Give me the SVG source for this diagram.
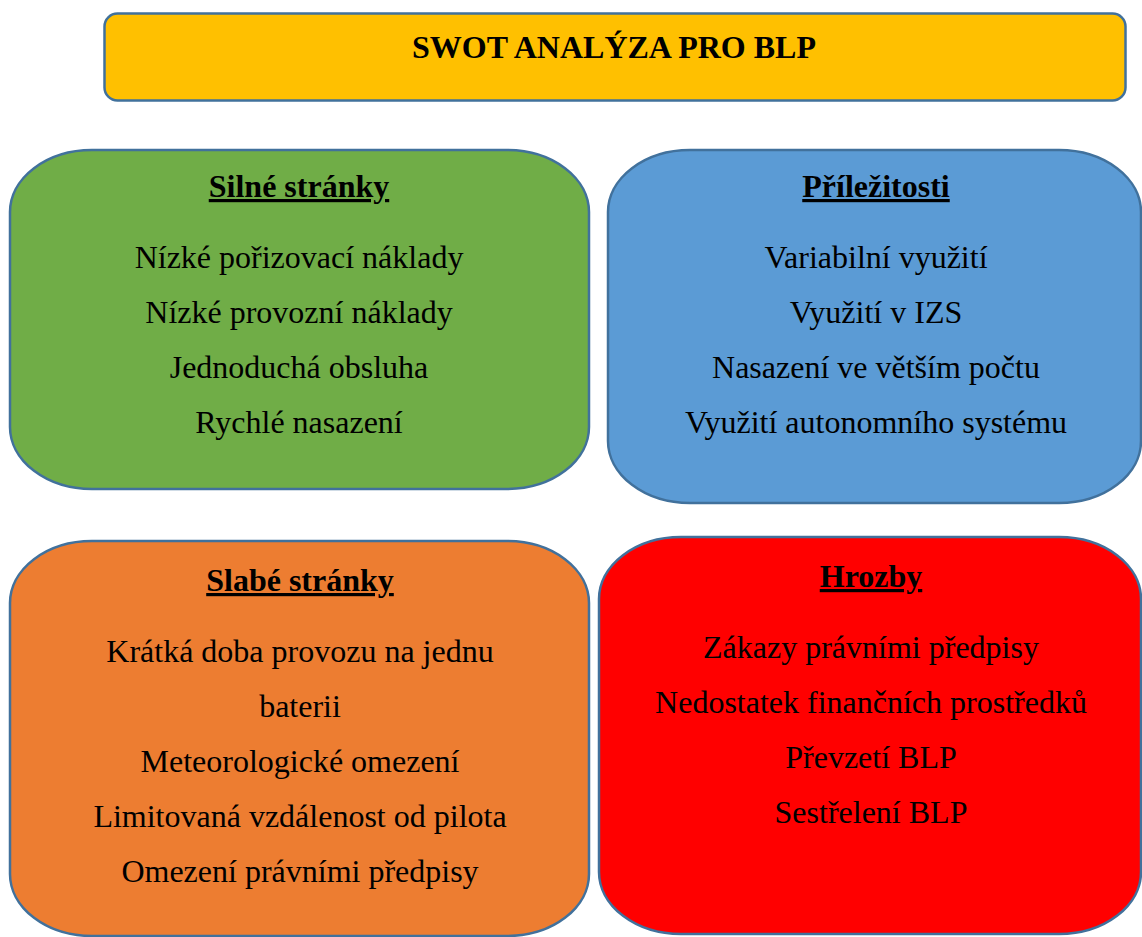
<svg xmlns="http://www.w3.org/2000/svg" width="1142" height="937" viewBox="0 0 1142 937">
<style>
.box{stroke:#41719C;stroke-width:2.5}
text{font-family:"Liberation Serif","Times New Roman",serif;fill:#000;text-anchor:middle}
.t{font-size:32px;font-weight:bold}
.h{font-size:32px;font-weight:bold;text-decoration:underline}
.b{font-size:32px}
</style>
<rect width="1142" height="937" fill="#fff"/>
<g id="title">
<rect class="box" x="104.5" y="13.5" width="1021" height="87" rx="13" fill="#FFC000"/>
<text class="t" x="614" y="58">SWOT ANALÝZA PRO BLP</text>
</g>
<g id="strengths">
<rect class="box" x="10" y="150" width="579" height="339" rx="82" ry="62" fill="#70AD47"/>
<text class="h" x="299" y="197">Silné stránky</text>
<text class="b" x="299" y="268">Nízké pořizovací náklady</text>
<text class="b" x="299" y="323">Nízké provozní náklady</text>
<text class="b" x="299" y="378">Jednoduchá obsluha</text>
<text class="b" x="299" y="433">Rychlé nasazení</text>
</g>
<g id="opportunities">
<rect class="box" x="608" y="150" width="533" height="353" rx="82" ry="62" fill="#5B9BD5"/>
<text class="h" x="876" y="197">Příležitosti</text>
<text class="b" x="876" y="268">Variabilní využití</text>
<text class="b" x="876" y="323">Využití v IZS</text>
<text class="b" x="876" y="378">Nasazení ve větším počtu</text>
<text class="b" x="876" y="433">Využití autonomního systému</text>
</g>
<g id="weaknesses">
<rect class="box" x="10" y="541" width="579" height="395" rx="82" ry="62" fill="#ED7D31"/>
<text class="h" x="300" y="591">Slabé stránky</text>
<text class="b" x="300" y="662">Krátká doba provozu na jednu</text>
<text class="b" x="300" y="717">baterii</text>
<text class="b" x="300" y="772">Meteorologické omezení</text>
<text class="b" x="300" y="827">Limitovaná vzdálenost od pilota</text>
<text class="b" x="300" y="882">Omezení právními předpisy</text>
</g>
<g id="threats">
<rect class="box" x="599" y="537" width="542" height="397" rx="82" ry="62" fill="#FF0000"/>
<text class="h" x="871" y="587">Hrozby</text>
<text class="b" x="871" y="658">Zákazy právními předpisy</text>
<text class="b" x="871" y="713">Nedostatek finančních prostředků</text>
<text class="b" x="871" y="768">Převzetí BLP</text>
<text class="b" x="871" y="823">Sestřelení BLP</text>
</g>
<g id="connectors"></g>
</svg>
